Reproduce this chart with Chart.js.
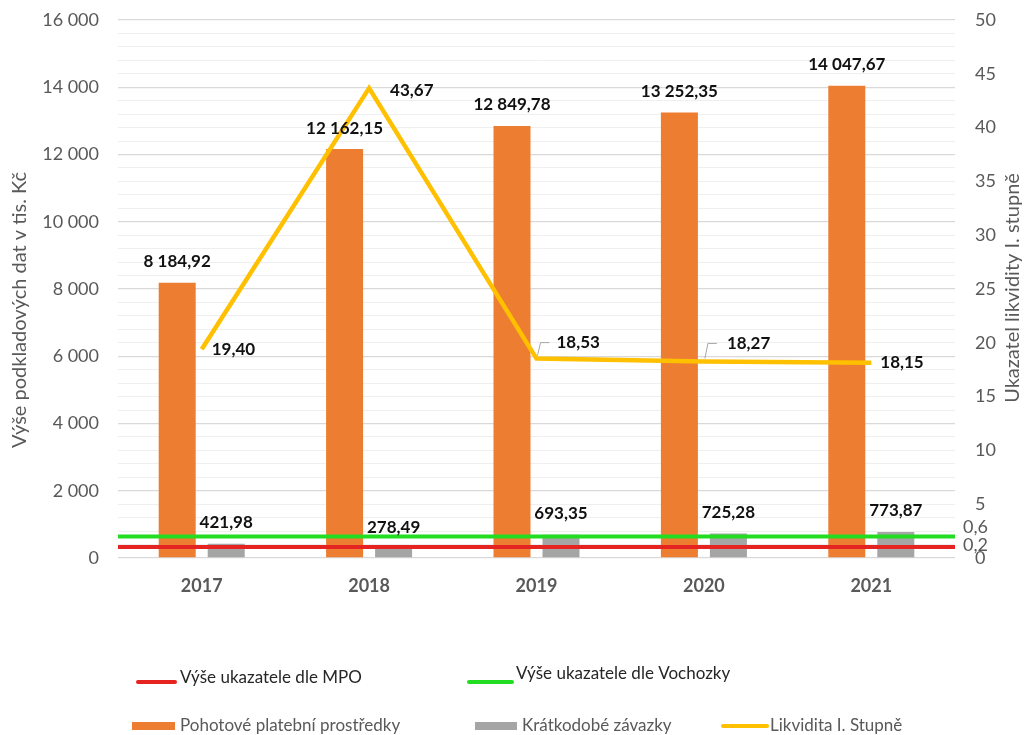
<!DOCTYPE html>
<html>
<head>
<meta charset="utf-8">
<script src="https://cdn.jsdelivr.net/npm/chart.js@4.4.0/dist/chart.umd.min.js"></script>
<style>
  body { margin: 0; background: #fff; }
  #wrap { width: 1029px; height: 735px; position: relative; }
</style>
</head>
<body>
<div id="wrap"><canvas id="chart"></canvas></div>
<script>
const years = ["2017", "2018", "2019", "2020", "2021"];
const pohotove = [8184.92, 12162.15, 12849.78, 13252.35, 14047.67];
const zavazky = [421.98, 278.49, 693.35, 725.28, 773.87];
const likvidita = [19.40, 43.67, 18.53, 18.27, 18.15];
const mpo = [0.2, 0.2, 0.2, 0.2, 0.2];
const vochozka = [0.6, 0.6, 0.6, 0.6, 0.6];

const FONT = "Lato";
const GRAY_TXT = "#595959";

function fmt(v) {
  const parts = v.toFixed(2).split(".");
  return parts[0].replace(/\B(?=(\d{3})+(?!\d))/g, " ") + "," + parts[1];
}
function fmtInt(v) {
  return String(v).replace(/\B(?=(\d{3})+(?!\d))/g, " ");
}

// offsets of the line labels (style only)
const lineLabelOff = [[10, 0], [21, 2], [20, -16], [23, -18], [9, 0]];
const leader = [false, false, true, true, false];

const extras = {
  id: "extras",
  afterDatasetsDraw(chart) {
    const ctx = chart.ctx;
    ctx.save();
    ctx.textBaseline = "middle";
    ctx.fillStyle = "#111";
    ctx.font = "bold 17px " + FONT;
    ctx.textAlign = "center";
    [2, 3].forEach(di => {
      const meta = chart.getDatasetMeta(di);
      meta.data.forEach((el, i) => {
        ctx.fillText(fmt(chart.data.datasets[di].data[i]), el.x, el.y - 21);
      });
    });
    ctx.textAlign = "left";
    const lm = chart.getDatasetMeta(4);
    lm.data.forEach((el, i) => {
      const o = lineLabelOff[i];
      ctx.fillText(fmt(likvidita[i]), el.x + o[0], el.y + o[1]);
      if (leader[i]) {
        ctx.strokeStyle = "#A6A6A6";
        ctx.lineWidth = 1;
        ctx.beginPath();
        ctx.moveTo(el.x + 1, el.y - 3);
        ctx.lineTo(el.x + 4, el.y + o[1]);
        ctx.lineTo(el.x + 13, el.y + o[1]);
        ctx.stroke();
      }
    });
    // values of the two limit lines at the right end
    ctx.font = "18px " + FONT;
    ctx.fillStyle = GRAY_TXT;
    const right = chart.chartArea.right;
    const g = chart.getDatasetMeta(1).data[4];
    ctx.fillText(String(vochozka[4]).replace(".", ","), right + 8, g.y - 9);
    const r = chart.getDatasetMeta(0).data[4];
    ctx.fillText(String(mpo[4]).replace(".", ","), right + 8, r.y - 2);
    ctx.restore();
  },
  afterDraw(chart) {
    const ctx = chart.ctx;
    ctx.save();
    // axis titles
    ctx.fillStyle = GRAY_TXT;
    ctx.font = "20px " + FONT;
    ctx.textAlign = "center";
    ctx.textBaseline = "middle";
    ctx.translate(20, 310);
    ctx.rotate(-Math.PI / 2);
    ctx.fillText("Výše podkladových dat v tis. Kč", 0, 0);
    ctx.restore();
    ctx.save();
    ctx.fillStyle = GRAY_TXT;
    ctx.font = "20px " + FONT;
    ctx.textAlign = "center";
    ctx.textBaseline = "middle";
    ctx.translate(1013, 288);
    ctx.rotate(-Math.PI / 2);
    ctx.fillText("Ukazatel likvidity I. stupně", 0, 0);
    ctx.restore();

    // legend
    ctx.save();
    ctx.textBaseline = "middle";
    ctx.textAlign = "left";
    ctx.font = "17px " + FONT;
    ctx.lineCap = "round";
    const ds = chart.data.datasets;
    function lineItem(d, x1, x2, y, tx, ty, col) {
      ctx.strokeStyle = d.borderColor;
      ctx.lineWidth = 4;
      ctx.beginPath();
      ctx.moveTo(x1, y);
      ctx.lineTo(x2, y);
      ctx.stroke();
      ctx.fillStyle = col;
      ctx.fillText(d.label, tx, ty);
    }
    function boxItem(d, x1, x2, y, tx, col) {
      ctx.fillStyle = d.backgroundColor;
      ctx.fillRect(x1, y - 4, x2 - x1, 8);
      ctx.fillStyle = col;
      ctx.fillText(d.label, tx, y);
    }
    lineItem(ds[0], 138, 175, 682, 180, 678, "#262626");
    lineItem(ds[1], 469, 512, 682, 516, 674, "#262626");
    boxItem(ds[2], 132, 175, 726, 180, GRAY_TXT);
    boxItem(ds[3], 475, 517, 726, 522, GRAY_TXT);
    lineItem(ds[4], 723, 767, 726, 770, 726, GRAY_TXT);
    ctx.restore();
  }
};

new Chart("chart", {
  type: "bar",
  data: {
    labels: years,
    datasets: [
      {
        type: "line",
        label: "Výše ukazatele dle MPO",
        data: mpo,
        borderColor: "#E52321",
        borderWidth: 4,
        pointRadius: 0,
        xAxisID: "x2",
        yAxisID: "y3",
        order: 1
      },
      {
        type: "line",
        label: "Výše ukazatele dle Vochozky",
        data: vochozka,
        borderColor: "#22DD22",
        borderWidth: 4,
        pointRadius: 0,
        xAxisID: "x2",
        yAxisID: "y3",
        order: 1
      },
      {
        label: "Pohotové platební prostředky",
        data: pohotove,
        backgroundColor: "#ED7D31",
        categoryPercentage: 1.171,
        barPercentage: 0.755,
        yAxisID: "y",
        order: 2
      },
      {
        label: "Krátkodobé závazky",
        data: zavazky,
        backgroundColor: "#A5A5A5",
        categoryPercentage: 1.171,
        barPercentage: 0.755,
        yAxisID: "y",
        order: 2
      },
      {
        type: "line",
        label: "Likvidita I. Stupně",
        data: likvidita,
        borderColor: "#FFC000",
        borderWidth: 4.5,
        pointRadius: 0,
        tension: 0,
        yAxisID: "y2",
        order: 0
      }
    ]
  },
  options: {
    responsive: true,
    maintainAspectRatio: false,
    animation: false,
    layout: { padding: { top: 20, left: 0, right: 0, bottom: 0 } },
    plugins: { legend: { display: false }, tooltip: { enabled: false } },
    scales: {
      x: {
        grid: { display: false, drawTicks: false },
        border: { display: false },
        ticks: { color: GRAY_TXT, font: { family: FONT, size: 18, weight: "bold" }, padding: 17 },
        afterFit: s => { s.height = 177; }
      },
      x2: {
        type: "category",
        labels: years,
        offset: false,
        display: false
      },
      y: {
        position: "left",
        min: 0,
        max: 16000,
        border: { display: false },
        grid: {
          drawTicks: true,
          tickLength: 19,
          tickColor: "rgba(0,0,0,0)",
          color: c => (c.tick && c.tick.value % 2000 === 0) ? "#D9D9D9" : "#EFEFEF",
          lineWidth: c => (c.tick && c.tick.value % 2000 === 0) ? 1.3 : 1
        },
        ticks: {
          stepSize: 400,
          autoSkip: false,
          padding: 0,
          color: GRAY_TXT,
          font: { family: FONT, size: 18 },
          callback: v => v % 2000 === 0 ? fmtInt(v) : ""
        },
        afterFit: s => { s.width = 118; }
      },
      y2: {
        position: "right",
        min: 0,
        max: 50,
        border: { display: false },
        grid: { display: false, drawTicks: true, tickLength: 20, tickColor: "rgba(0,0,0,0)" },
        ticks: {
          stepSize: 5,
          padding: 0,
          color: GRAY_TXT,
          font: { family: FONT, size: 18 }
        },
        afterFit: s => { s.width = 74; }
      },
      y3: {
        display: false,
        min: -0.22,
        max: 20.3
      }
    }
  },
  plugins: [extras]
});
</script>
</body>
</html>
